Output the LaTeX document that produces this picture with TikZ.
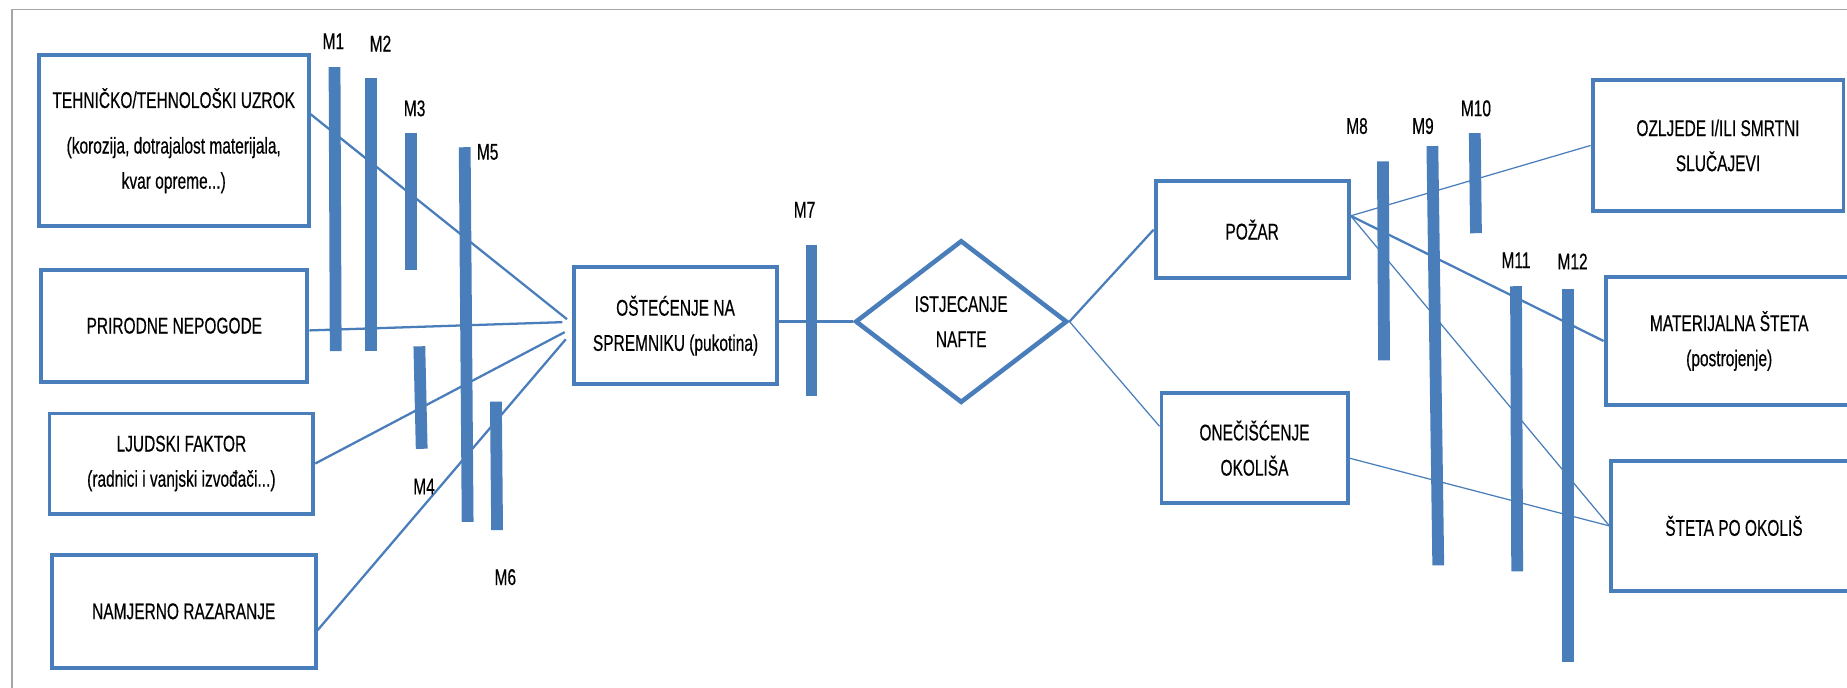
\documentclass[tikz,border=0pt]{standalone}
\usepackage{fontspec}
\setmainfont{Liberation Sans}[FakeStretch=0.68,FakeBold=0.4]
\usepackage{tikz}
\usetikzlibrary{shapes.geometric,calc}
\definecolor{riskblue}{RGB}{74,126,187}

\begin{document}
\begin{tikzpicture}[x=0.02cm,y=-0.02cm,font=\fontsize{11}{17}\selectfont,
    box/.style={draw=riskblue,line width=1.9pt,align=center,inner sep=0pt},
    link/.style={draw=riskblue,line width=1.1pt},
    thinlink/.style={draw=riskblue,line width=0.6pt},
    barrier/.style={draw=riskblue,line width=0.2cm},
    lbl/.style={inner sep=0pt}]

  \useasboundingbox (0,0) rectangle (1568,584);
  \draw[gray!70,line width=0.7pt] (10,584) -- (10,8) -- (1568,8);

  % uzroci
  \node[box,minimum width=4.58cm,minimum height=2.9cm]  (tech) at (147.5,119.5) {TEHNIČKO/TEHNOLOŠKI UZROK\\[5pt](korozija, dotrajalost materijala,\\kvar opreme...)};
  \node[box,minimum width=4.52cm,minimum height=1.9cm]  (prir) at (148,276.5)   {PRIRODNE NEPOGODE};
  \node[box,minimum width=4.48cm,minimum height=1.7cm]  (ljud) at (154,393.5)   {LJUDSKI FAKTOR\\(radnici i vanjski izvođači...)};
  \node[box,minimum width=4.48cm,minimum height=1.92cm] (namj) at (156,519)     {NAMJERNO RAZARANJE};

  % dogadaj
  \node[box,minimum width=3.46cm,minimum height=1.98cm] (ost) at (573.5,276.5) {OŠTEĆENJE NA\\SPREMNIKU (pukotina)};
  \node[box,diamond,line width=2.2pt,minimum width=3.6cm,minimum height=2.76cm] (leak) at (816,273) {ISTJECANJE\\NAFTE};

  % posljedice
  \node[box,minimum width=3.28cm,minimum height=1.65cm] (pozar) at (1063,195)    {POŽAR};
  \node[box,minimum width=3.16cm,minimum height=1.86cm] (onec)  at (1065,380.5)  {ONEČIŠĆENJE\\OKOLIŠA};
  \node[box,minimum width=4.26cm,minimum height=2.22cm] (ozl)   at (1458.5,123.5) {OZLJEDE I/ILI SMRTNI\\SLUČAJEVI};
  \node[box,minimum width=4.2cm,minimum height=2.18cm]  (mat)   at (1468,289.5)  {MATERIJALNA ŠTETA\\(postrojenje)};
  \node[box,minimum width=4.16cm,minimum height=2.22cm] (steta) at (1472,446.5)  {ŠTETA PO OKOLIŠ};

  \path[link] (tech.11.6) edge ($(ost.west)+(-4,-5.5)$)
        (prir.-2)   edge ($(ost.west)+(-8,-3)$)
        (ljud.east) edge ($(ost.west)+(-6,5.5)$)
        (namj.-8.6) edge ($(ost.west)+(-5,11.5)$)
        (ost.east |- leak.west) edge (leak.west)
        (leak.east) edge (pozar.west)
        (pozar.8.9) edge (mat.west);
  \path[thinlink] (leak.east) edge (onec.167.5)
        (pozar.8.9) edge (ozl.west)
        (pozar.8.9) edge (steta.west)
        (onec.-6.9) edge (steta.west);

  % barijere
  \draw[barrier] (284,57)    -- (285,298);
  \draw[barrier] (315,66)    -- (315,298);
  \draw[barrier] (349,113)   -- (349,229);
  \draw[barrier] (356,294)   -- (358,381);
  \draw[barrier] (394.5,125) -- (397,443);
  \draw[barrier] (421,341)   -- (422,450);
  \draw[barrier] (689,208)   -- (689,336);
  \draw[barrier] (1174,137)  -- (1175,306);
  \draw[barrier] (1216,124)  -- (1221,480);
  \draw[barrier] (1252,113)  -- (1253,198);
  \draw[barrier] (1287,243)  -- (1288,485);
  \draw[barrier] (1331,245)  -- (1331,562);

  \node[lbl] (m1)  at (283,35)   {M1};
  \node[lbl] (m2)  at (323,37)   {M2};
  \node[lbl] (m3)  at (352,92)   {M3};
  \node[lbl] (m4)  at (360,413)  {M4};
  \node[lbl] (m5)  at (414,129)  {M5};
  \node[lbl] (m6)  at (429,490)  {M6};
  \node[lbl] (m7)  at (683,178)  {M7};
  \node[lbl] (m8)  at (1152,107) {M8};
  \node[lbl] (m9)  at (1208,107) {M9};
  \node[lbl] (m10) at (1253,92)  {M10};
  \node[lbl] (m11) at (1287,221) {M11};
  \node[lbl] (m12) at (1335,222) {M12};
\end{tikzpicture}
\end{document}
